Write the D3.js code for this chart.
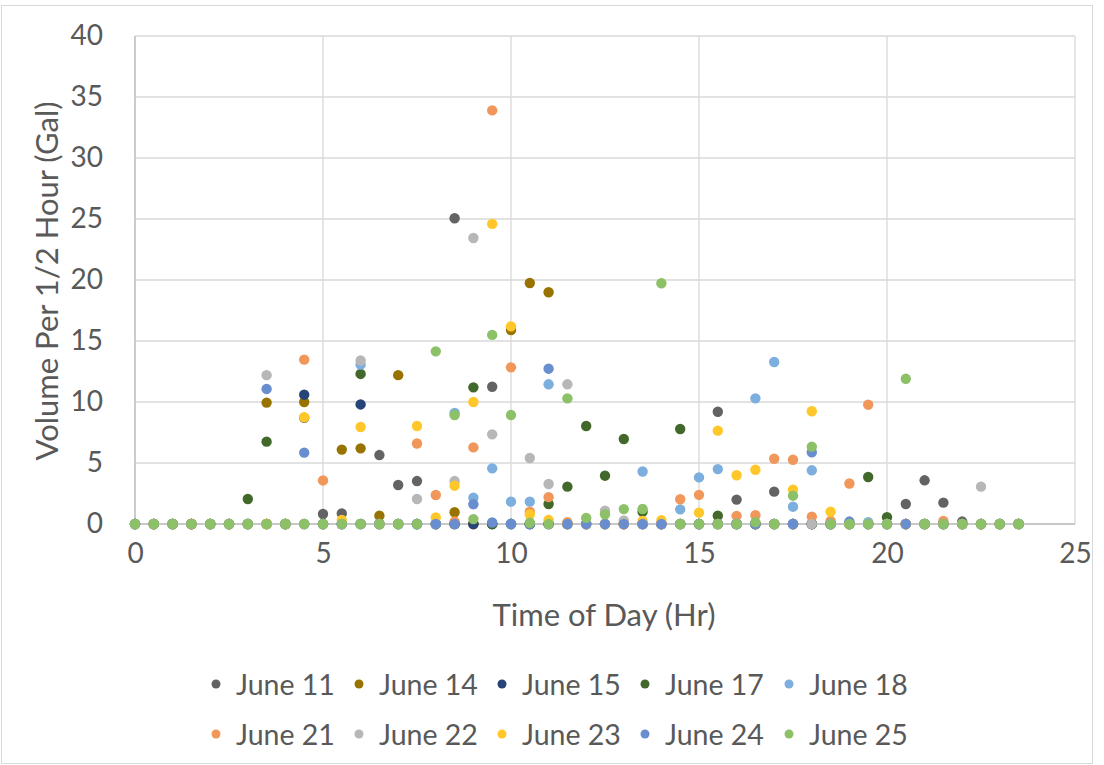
<!DOCTYPE html>
<html>
<head>
<meta charset="utf-8">
<script src="https://cdnjs.cloudflare.com/ajax/libs/d3/7.8.5/d3.min.js"></script>
<style>
  html, body { margin: 0; padding: 0; background: #fff; }
  svg { display: block; font-family: Lato, "Open Sans", sans-serif; }
</style>
</head>
<body>
<svg id="chart" width="1104" height="765"></svg>
<script>
// Half-hour time slots, 0 to 23.5 h
const times = d3.range(0, 24, 0.5);

const seriesNames = ["June 11", "June 14", "June 15", "June 17", "June 18",
                     "June 21", "June 22", "June 23", "June 24", "June 25"];
const seriesColors = ["#636363", "#997300", "#264478", "#43682b", "#7cafdd",
                      "#f1975a", "#b7b7b7", "#ffc729", "#698ed0", "#8cc168"];

// Non-zero readings per day as [hour, gallons]; all other slots are 0
const june11 = [[4.5, 8.7], [5, 0.82], [5.5, 0.87], [6.5, 5.65], [7, 3.2], [7.5, 3.52],
                [8.5, 25.06], [9.5, 11.25], [15.5, 9.2], [16, 2.0], [17, 2.65],
                [20.5, 1.64], [21, 3.58], [21.5, 1.75], [22, 0.2]];
const june14 = [[3.5, 9.95], [4.5, 10.0], [5.5, 6.1], [6, 6.2], [6.5, 0.68], [7, 12.2],
                [8.5, 0.96], [10, 15.9], [10.5, 19.75], [11, 19.0]];
const june15 = [[4.5, 10.6], [6, 9.8]];
const june17 = [[3, 2.05], [3.5, 6.75], [6, 12.3], [9, 11.2], [11, 1.64], [11.5, 3.06],
                [12, 8.03], [12.5, 3.96], [13, 6.97], [13.5, 1.0], [14.5, 7.79],
                [15.5, 0.68], [19.5, 3.85], [20, 0.55]];
const june18 = [[6, 13.06], [8.5, 9.1], [9, 2.16], [9.5, 4.56], [10, 1.83], [10.5, 1.83],
                [11, 11.45], [13.5, 4.3], [14.5, 1.2], [15, 3.82], [15.5, 4.5],
                [16.5, 10.3], [17, 13.28], [17.5, 1.42], [18, 4.4], [19.5, 0.15]];
const june21 = [[4.5, 13.47], [5, 3.57], [7.5, 6.6], [8, 2.38], [8.5, 0.2], [9, 6.28],
                [9.5, 33.9], [10, 12.84], [10.5, 1.0], [11, 2.2], [11.5, 0.15],
                [14.5, 2.03], [15, 2.39], [16, 0.67], [16.5, 0.72], [17, 5.35],
                [17.5, 5.27], [18, 0.6], [18.5, 0.25], [19, 3.32], [19.5, 9.78], [21.5, 0.25]];
const june22 = [[3.5, 12.2], [6, 13.4], [7.5, 2.05], [8.5, 3.52], [9, 23.44], [9.5, 7.35],
                [10.5, 5.41], [11, 3.28], [11.5, 11.45], [12.5, 1.1], [13, 0.3], [22.5, 3.06]];
const june23 = [[4.5, 8.75], [5.5, 0.33], [6, 7.95], [7.5, 8.03], [8, 0.53], [8.5, 3.14],
                [9, 10.0], [9.5, 24.6], [10, 16.2], [10.5, 0.78], [11, 0.33], [13.5, 0.25],
                [14, 0.32], [15, 0.93], [15.5, 7.65], [16, 4.0], [16.5, 4.45],
                [17.5, 2.82], [18, 9.24], [18.5, 1.0]];
const june24 = [[3.5, 11.07], [4.5, 5.85], [9, 1.62], [9.5, 0.12], [11, 12.73],
                [18, 5.88], [19, 0.2]];
const june25 = [[8, 14.15], [8.5, 8.93], [9, 0.4], [9.5, 15.5], [10, 8.93], [10.5, 0.1],
                [11.5, 10.3], [12, 0.5], [12.5, 0.8], [13, 1.22], [13.5, 1.23],
                [14, 19.73], [16.5, 0.15], [17.5, 2.32], [18, 6.34], [20.5, 11.9]];

const readings = [june11, june14, june15, june17, june18,
                  june21, june22, june23, june24, june25];

const xTicks = [0, 5, 10, 15, 20, 25];
const yTicks = [0, 5, 10, 15, 20, 25, 30, 35, 40];

// Expand sparse readings into a full day of half-hour values
const series = seriesNames.map((name, i) => {
  const m = new Map(readings[i].map(([t, v]) => [t, v]));
  return { name, color: seriesColors[i], values: times.map(t => ({ t, v: m.get(t) || 0 })) };
});

const svg = d3.select("#chart");
const textColor = "#595959";
const gridColor = "#d9d9d9";

// Outer chart frame
svg.append("rect")
  .attr("x", 1.5).attr("y", 5.5).attr("width", 1091).attr("height", 758)
  .attr("fill", "none").attr("stroke", gridColor).attr("stroke-width", 1);

const x = d3.scaleLinear().domain([0, 25]).range([135, 1075]);
const y = d3.scaleLinear().domain([0, 40]).range([524, 36]);

// Gridlines
svg.append("g")
  .selectAll("line.h").data(yTicks).join("line")
  .attr("x1", x(0)).attr("x2", x(25))
  .attr("y1", d => y(d)).attr("y2", d => y(d))
  .attr("stroke", gridColor).attr("stroke-width", 1.3);
svg.append("g")
  .selectAll("line.v").data(xTicks).join("line")
  .attr("x1", d => x(d)).attr("x2", d => x(d))
  .attr("y1", y(0)).attr("y2", y(40))
  .attr("stroke", gridColor).attr("stroke-width", 1.3);

// Axis lines
svg.append("line")
  .attr("x1", x(0)).attr("x2", x(0)).attr("y1", y(0)).attr("y2", y(40))
  .attr("stroke", "#bfbfbf").attr("stroke-width", 1.3);
svg.append("line")
  .attr("x1", x(0)).attr("x2", x(25)).attr("y1", y(0)).attr("y2", y(0))
  .attr("stroke", "#bfbfbf").attr("stroke-width", 1.3);

// Y axis tick labels
const yAxis = d3.axisLeft(y).tickValues(yTicks).tickSize(0).tickPadding(32);
const gy = svg.append("g").attr("transform", `translate(${x(0)},0)`).call(yAxis);
gy.select(".domain").remove();
gy.selectAll("text").attr("font-size", 28).attr("fill", textColor)
  .attr("font-family", "Lato, 'Open Sans', sans-serif");

// X axis tick labels
const xAxis = d3.axisBottom(x).tickValues(xTicks).tickSize(0).tickPadding(19);
const gx = svg.append("g").attr("transform", `translate(0,${y(0)})`).call(xAxis);
gx.select(".domain").remove();
gx.selectAll("text").attr("font-size", 28).attr("fill", textColor)
  .attr("font-family", "Lato, 'Open Sans', sans-serif");

// Axis titles
svg.append("text")
  .attr("x", 604).attr("y", 614).attr("text-anchor", "middle")
  .attr("dominant-baseline", "central")
  .attr("font-size", 31).attr("fill", textColor)
  .text("Time of Day (Hr)");
svg.append("text")
  .attr("transform", "translate(46,281) rotate(-90)")
  .attr("text-anchor", "middle").attr("dominant-baseline", "central")
  .attr("font-size", 31).attr("fill", textColor)
  .text("Volume Per 1/2 Hour (Gal)");

// Scatter markers, later days drawn on top
series.forEach(s => {
  svg.append("g")
    .selectAll("circle").data(s.values).join("circle")
    .attr("cx", d => x(d.t)).attr("cy", d => y(d.v))
    .attr("r", 5.2).attr("fill", s.color);
});

// Legend: two rows of five
const legendX = [216, 359, 502, 645, 789];
const legendY = [684, 734];
const lg = svg.append("g").selectAll("g").data(series).join("g")
  .attr("transform", (d, i) => `translate(${legendX[i % 5]},${legendY[Math.floor(i / 5)]})`);
lg.append("circle").attr("r", 4.5).attr("fill", d => d.color);
lg.append("text")
  .attr("x", 20).attr("dominant-baseline", "central")
  .attr("font-size", 28.5).attr("fill", textColor)
  .text(d => d.name);
</script>
</body>
</html>
